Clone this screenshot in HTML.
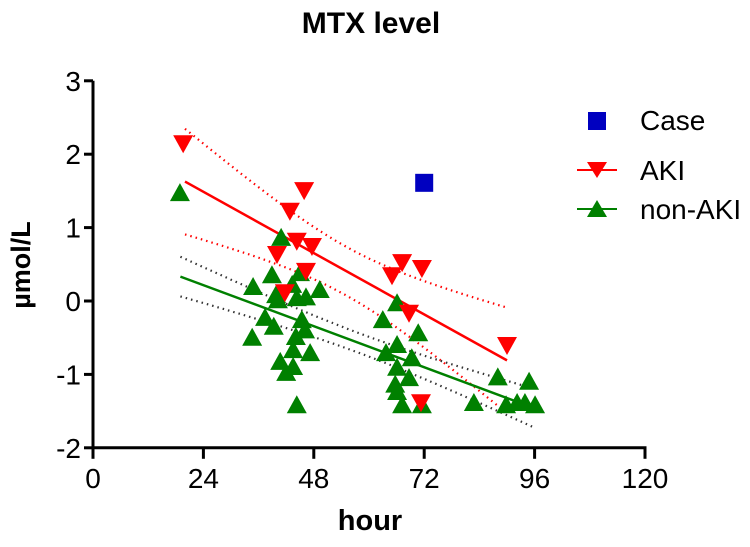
<!DOCTYPE html>
<html><head><meta charset="utf-8"><style>
html,body{margin:0;padding:0;background:#fff;}
svg{display:block;font-family:"Liberation Sans",Arial,sans-serif;}
</style></head><body>
<svg id="chart" width="750" height="547" viewBox="0 0 750 547">
<text x="371" y="33" text-anchor="middle" font-size="30" font-weight="bold">MTX level</text>
<text transform="translate(30,265) rotate(-90)" text-anchor="middle" font-size="27" font-weight="bold">µmol/L</text>
<text x="370" y="530" text-anchor="middle" font-size="29" font-weight="bold">hour</text>
<g id="axes"></g>
<g id="fits"></g>
<g id="marks"></g>
<g id="legend">
 <rect x="588" y="112" width="18" height="18" fill="#0000c0"/>
 <text x="640" y="130" font-size="28">Case</text>
 <line x1="577" y1="170" x2="617" y2="170" stroke="red" stroke-width="2"/>
 <polygon points="587,162 607,162 597,178" fill="red"/>
 <text x="640" y="180" font-size="28">AKI</text>
 <line x1="577" y1="209" x2="617" y2="209" stroke="green" stroke-width="2"/>
 <polygon points="587,217 607,217 597,200" fill="green"/>
 <text x="640" y="219" font-size="28">non-AKI</text>
</g>
</svg>
<script>
const xTicks=[0,24,48,72,96,120];
const yTicks=[3,2,1,0,-1,-2];
const akiX=[19.6,45.9,42.8,44.3,47.6,40.0,46.3,41.7,65.0,67.2,71.5,68.7,71.3,90.0];
const akiY=[2.15,1.51,1.23,0.82,0.75,0.64,0.41,0.12,0.35,0.53,0.45,-0.16,-1.38,-0.60];
const nonX=[18.9,40.9,34.8,38.9,39.8,40.2,37.4,39.3,34.6,43.3,45.0,46.3,44.3,49.3,45.4,46.1,44.1,47.2,43.5,40.7,43.5,42.0,44.3,66.1,63.0,70.7,66.1,63.7,69.3,66.1,68.7,65.7,66.1,67.2,71.5,82.8,88.0,94.8,89.8,92.2,93.9,96.1];
const nonY=[1.47,0.86,0.19,0.35,0.08,0.01,-0.23,-0.35,-0.50,0.22,0.38,0.05,0.04,0.15,-0.26,-0.40,-0.49,-0.71,-0.67,-0.83,-0.90,-0.98,-1.42,-0.03,-0.26,-0.44,-0.60,-0.71,-0.78,-0.91,-1.05,-1.14,-1.24,-1.42,-1.42,-1.39,-1.04,-1.10,-1.42,-1.39,-1.39,-1.42];
const caseX=[72];
const caseY=[1.61];
// fits: [intercept, slope, xStart, xEnd, ciMean, ciC0, ciC1]
const akiFit=[2.323,-0.0348,20,90,55,0.11,0.000333];
const nonFit=[0.775,-0.0233,19,96,58,0.018,0.000036];

const NS='http://www.w3.org/2000/svg';
const X=v=>93+v*(552/120);
const Y=v=>301-v*73.4;
function mk(tag,attrs,parent){const e=document.createElementNS(NS,tag);for(const k in attrs)e.setAttribute(k,attrs[k]);parent.appendChild(e);return e;}
const axes=document.getElementById('axes'),fits=document.getElementById('fits'),marks=document.getElementById('marks');
let el=mk('line',{x1:X(0),y1:Y(3),x2:X(0),y2:Y(-2)+1.5,stroke:'#000','stroke-width':3},axes);


el=mk('line',{x1:X(0)-1.5,y1:Y(-2),x2:X(120)+1.5,y2:Y(-2),stroke:'#000','stroke-width':3},axes);


yTicks.forEach(t=>{
 const l=mk('line',{x1:X(0)-9,y1:Y(t),x2:X(0),y2:Y(t),stroke:'#000','stroke-width':3},axes);
 
 
 const tx=mk('text',{x:X(0)-12,y:Y(t)+10,'text-anchor':'end','font-size':28},axes);tx.textContent=t;
 
 
});
xTicks.forEach(t=>{
 const l=mk('line',{x1:X(t),y1:Y(-2),x2:X(t),y2:Y(-2)+11,stroke:'#000','stroke-width':3},axes);
 
 
 const tx=mk('text',{x:X(t),y:Y(-2)+40,'text-anchor':'middle','font-size':28},axes);tx.textContent=t;
 
 
});
function drawFit(f,color,ciColor,name){
 const [a,b,x0,x1,xm,c0,c1]=f;
 const ln=mk('line',{x1:X(x0),y1:Y(a+b*x0),x2:X(x1),y2:Y(a+b*x1),stroke:color,'stroke-width':2.5},fits);
 
 
 [1,-1].forEach(s=>{
  let d='';
  for(let i=0;i<=40;i++){const x=x0+(x1-x0)*i/40;const y=a+b*x+s*Math.sqrt(c0+c1*(x-xm)*(x-xm));d+=(i?'L':'M')+X(x).toFixed(1)+','+Y(y).toFixed(1);}
  const p=mk('path',{d:d,fill:'none',stroke:ciColor,'stroke-width':2.2,'stroke-dasharray':'1.5,4'},fits);
  
  
 });
}
drawFit(akiFit,'red','red','aki');
drawFit(nonFit,'green','#333','non-aki');
nonX.forEach((x,i)=>{
 const cx=X(x),cy=Y(nonY[i]);
 const p=mk('polygon',{points:`${cx-10},${cy+8} ${cx+10},${cy+8} ${cx},${cy-10}`,fill:'green'},marks);
 
 
});
akiX.forEach((x,i)=>{
 const cx=X(x),cy=Y(akiY[i]);
 const p=mk('polygon',{points:`${cx-10},${cy-8} ${cx+10},${cy-8} ${cx},${cy+10}`,fill:'red'},marks);
 
 
});
caseX.forEach((x,i)=>{
 const r=mk('rect',{x:X(x)-9,y:Y(caseY[i])-9,width:18,height:18,fill:'#0000c0'},marks);
 
 
});
</script>
</body></html>
